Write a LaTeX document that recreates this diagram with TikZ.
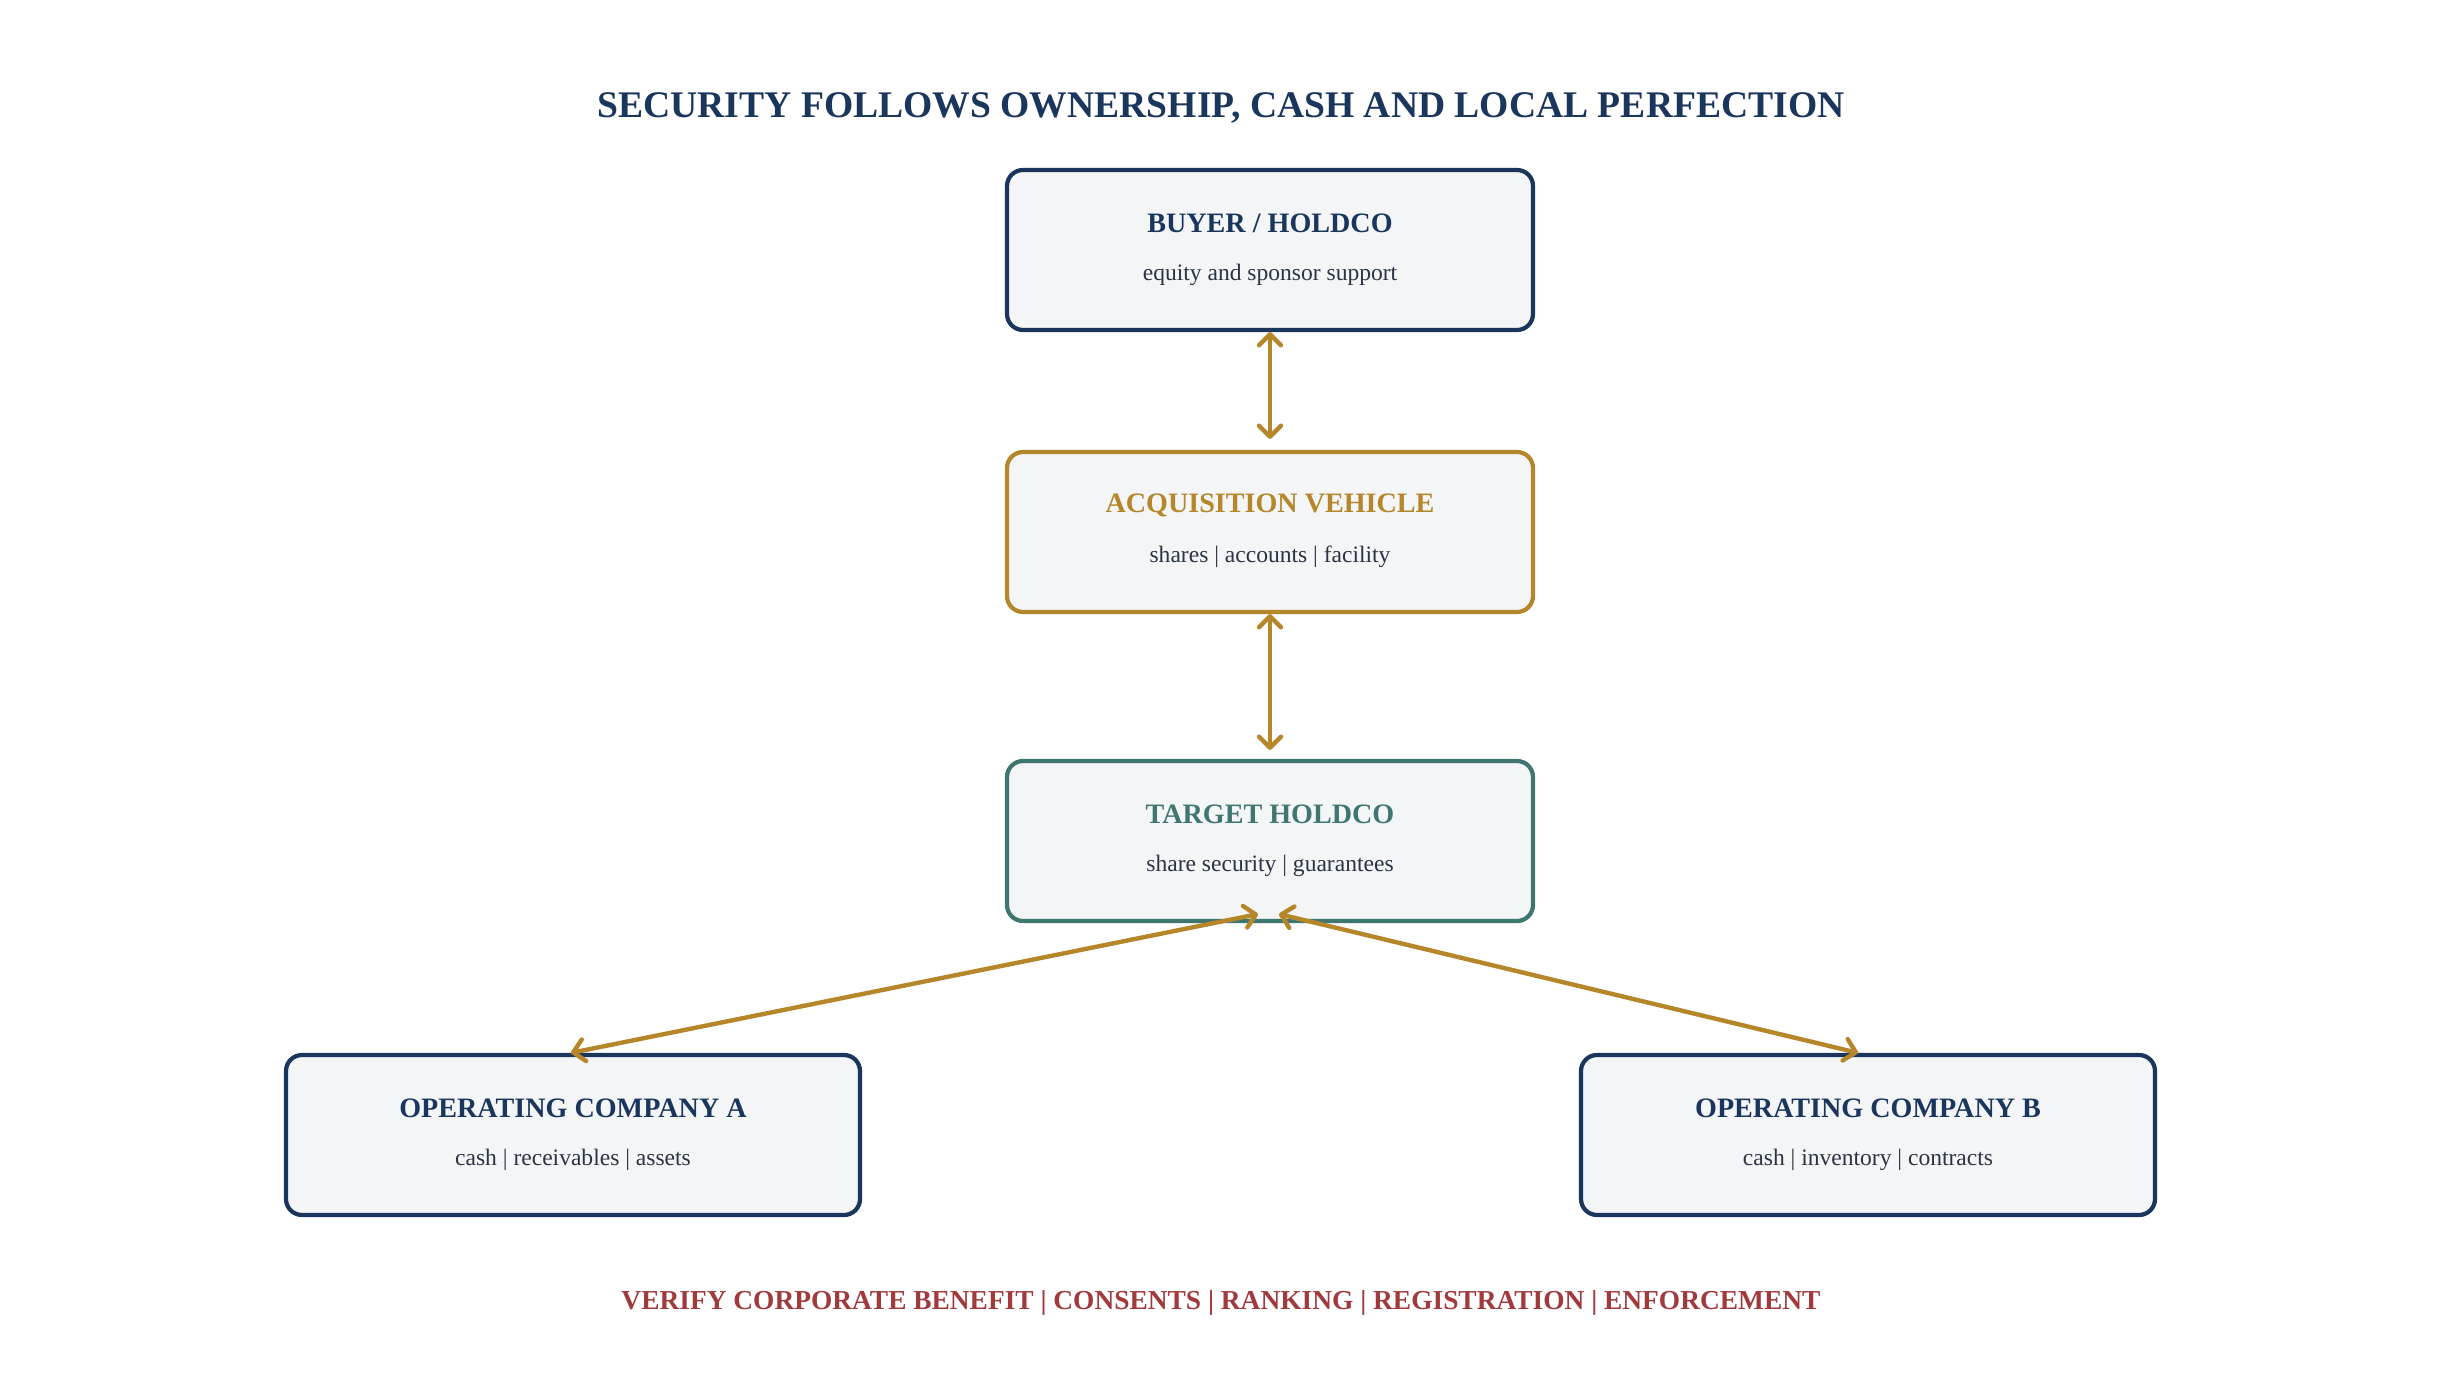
\documentclass[tikz,border=0pt]{standalone}
\usepackage{fontspec}
\setmainfont{Liberation Serif}
\usetikzlibrary{arrows.meta,positioning}
\definecolor{navy}{HTML}{1B365D}
\definecolor{gold}{HTML}{B5862A}
\definecolor{teal}{HTML}{3F7670}
\definecolor{brick}{HTML}{A03A3C}
\definecolor{boxfill}{HTML}{F3F5F7}
\definecolor{subtext}{HTML}{2A3444}
\tikzset{
    entity/.style={draw=#1,fill=boxfill,line width=1.2pt,rounded corners=0.16cm,minimum width=5.26cm,minimum height=1.6cm},
    entitytitle/.style={text=#1,font=\bfseries\fontsize{8}{10}\selectfont},
    entitysub/.style={text=subtext,font=\fontsize{6.7}{8}\selectfont},
    link/.style={draw=gold,line width=1.25pt,line cap=round,{Straight Barb[round,length=0.11cm,width=0.22cm]}-{Straight Barb[round,length=0.11cm,width=0.22cm]}}
}
\begin{document}
\begin{tikzpicture}
                \useasboundingbox (0,0) rectangle (24.42,-13.86);
                \node[font=\bfseries\fontsize{10.7}{13}\selectfont,text=navy] (title) at (12.21,-1.08) {SECURITY FOLLOWS OWNERSHIP, CASH AND LOCAL PERFECTION};
                % boxes
                \node[entity=navy] (buyer) at (12.70,-2.50) {};
                \node[entity=gold] (vehicle) at (12.70,-5.32) {};
                \node[entity=teal] (target) at (12.70,-8.41) {};
                \node[entity=navy,minimum width=5.74cm] (opcoa) at (5.73,-11.35) {};
                \node[entity=navy,minimum width=5.74cm] (opcob) at (18.68,-11.35) {};
                \foreach \n/\c/\t/\s in {buyer/navy/{BUYER / HOLDCO}/equity and sponsor support,
                                        vehicle/gold/ACQUISITION VEHICLE/shares | accounts | facility,
                                        target/teal/TARGET HOLDCO/share security | guarantees,
                                        opcoa/navy/OPERATING COMPANY A/cash | receivables | assets,
                                        opcob/navy/OPERATING COMPANY B/cash | inventory | contracts} {
                    \node[entitytitle=\c] (\n-t) at ([yshift=0.27cm]\n.center) {\t};
                    \node[entitysub] (\n-s) at ([yshift=-0.25cm]\n.center) {\s};
                }
                % links
                \draw[link,shorten >=0.11cm] (buyer.south) -- (vehicle.north);
                \draw[link,shorten >=0.09cm] (vehicle.south) -- (target.north);
                \draw[link] ([xshift=-0.12cm,yshift=0.09cm]target.south) -- ([xshift=-0.02cm]opcoa.north);
                \draw[link] ([xshift=0.09cm,yshift=0.09cm]target.south) -- ([xshift=-0.10cm]opcob.north);
                \node[font=\bfseries\fontsize{7.8}{9}\selectfont,text=brick] (footer) at (12.21,-13.03) {VERIFY CORPORATE BENEFIT | CONSENTS | RANKING | REGISTRATION | ENFORCEMENT};
            \end{tikzpicture}
\end{document}
